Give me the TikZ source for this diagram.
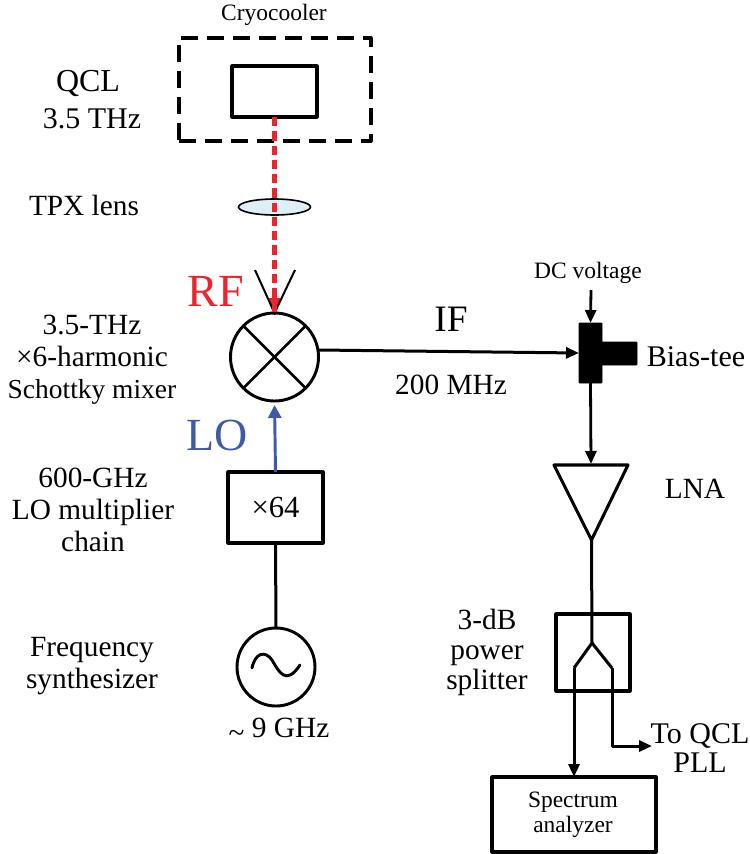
\documentclass[tikz,border=0pt]{standalone}
\usepackage{fontspec}
\setmainfont{Liberation Serif}
\usetikzlibrary{arrows.meta,shapes.geometric}
\definecolor{rfred}{RGB}{237,35,45}
\definecolor{loblue}{RGB}{64,90,170}
\definecolor{lensfill}{RGB}{222,240,246}
\def\px{0.75pt}
\tikzset{
  wire/.style={line width=2.25pt,line join=round},
  tip/.style={-{Triangle[length=13*\px,width=11*\px]}},
  rect/.style={draw,line width=2.3pt,inner sep=0pt,outer sep=0pt,line join=round},
  round shape/.style={circle,draw,line width=2.2pt,inner sep=0pt,outer sep=0pt},
  lab/.style={inner sep=0pt,align=center,font=\fontsize{22}{24}\selectfont},
  small lab/.style={inner sep=0pt,align=center,font=\fontsize{17.6}{19}\selectfont},
  big lab/.style={inner sep=0pt,font=\fontsize{34.5}{36}\selectfont},
}
\begin{document}
\begin{tikzpicture}[x=0.75pt,y=-0.75pt]
\useasboundingbox (0,0) rectangle (750,854);
% cryocooler and QCL
\node[rect,dash pattern=on 13pt off 6.5pt,minimum width=192*\px,minimum height=103*\px] (cryo) at (275,89.5) {};
\node[rect,minimum width=85*\px,minimum height=51*\px] (qcl) at (274.5,91.5) {};
\node[small lab] (cryolab) at (274,15) {Cryocooler};
\node[lab,font=\fontsize{24}{27}\selectfont] (qcllab) at (88,83) {QCL};
\node[lab,font=\fontsize{22.5}{24}\selectfont] (thz) at (92,119) {3.5 THz};
% lens
\node[ellipse,draw,line width=1.2pt,fill=lensfill,minimum width=72*\px,minimum height=16*\px,inner sep=0pt] (lens) at (274.5,207) {};
\node[lab] (tpx) at (84,205) {TPX lens};
% mixer
\node[round shape,minimum size=88*\px] (mix) at (274.5,357) {};
\draw[line width=2pt] (mix.45) -- (mix.225);
\draw[line width=2pt] (mix.135) -- (mix.315);
\coordinate (hornL) at (255,270);
\coordinate (hornR) at (295,270);
\fill[rfred] (268,298) -- (281,298) -- (mix.north) -- cycle;
\draw[line width=1.5pt] (hornL) -- (mix.north) -- (hornR);
\draw[rfred,line width=3.9pt,dash pattern=on 7pt off 3.7pt] (qcl.south) -- (mix.north);
\node[big lab,text=rfred] (rf) at (216,291) {RF};
\node[lab] (mixlab) at (92,360) {3.5-THz\\×6-harmonic\\{\fontsize{20.6}{24}\selectfont Schottky mixer}};
% LO chain
\node[rect,font=\fontsize{23}{25}\selectfont,minimum width=95*\px,minimum height=71*\px] (mult) at (275.5,507.5) {×64};
\node[round shape,minimum size=78*\px] (syn) at (276,667) {};
\draw[wire] (mult.south) -- (syn.north);
\draw[loblue,line width=2.2pt,shorten >=3pt,-{Triangle[length=13*\px,width=13*\px]}] (mult.north) -- (mix.south);
\draw[line width=2.2pt,line cap=round] (252,668) .. controls (255,653) and (265,650) .. (272,660) .. controls (279,672) and (286,686) .. (300,665);
\node[big lab,text=loblue] (lo) at (217,435) {LO};
\node[lab] (chain) at (93,510) {600-GHz\\LO multiplier\\chain};
\node[lab] (freq) at (92,666) {Frequency\\synthesizer};
\node[lab] (ghz) at (279,730) {\raisebox{-0.35ex}{\textasciitilde} 9 GHz};
% bias-tee
\node[fill=black,draw,line width=0.5pt,rounded corners=0.5pt,minimum width=23*\px,minimum height=60*\px,inner sep=0pt,outer sep=0pt] (teeV) at (590.5,353) {};
\node[fill=black,draw,line width=0.5pt,rounded corners=0.5pt,minimum width=36*\px,minimum height=23*\px,inner sep=0pt,outer sep=0pt,anchor=west] (teeH) at (601,353.5) {};
\coordinate (dc) at (591,290);
\draw[wire,line width=2.1pt,tip] (dc) -- (teeV.north);
\draw[wire,tip] (mix.east) ++(0,-7) -- (teeV.west);
\node[small lab] (dclab) at (588,273) {DC voltage};
\node[lab,font=\fontsize{22.5}{24}\selectfont] (tee) at (696,357) {Bias-tee};
\node[lab,font=\fontsize{28}{30}\selectfont] (iflab) at (451,319) {IF};
\node[lab,font=\fontsize{22}{24}\selectfont] (mhz) at (451,385) {200 MHz};
% LNA
\coordinate (lnaA) at (554,465);
\coordinate (lnaB) at (628,465);
\coordinate (lnaC) at (591.5,540);
\draw[rect] (lnaA) -- (lnaB) -- (lnaC) -- cycle;
\draw[wire,line width=2.1pt,tip] (teeV.south) -- (591,464);
\node[lab] (lna) at (695,489) {LNA};
% splitter
\node[rect,minimum width=74*\px,minimum height=77*\px] (split) at (593,652.5) {};
\coordinate (fork) at (592,643);
\coordinate (forkL) at (574,668);
\coordinate (forkR) at (612,668);
\coordinate (out) at (652,746);
\draw[wire] (lnaC) -- (fork);
\draw[wire] (forkL) -- (fork) -- (forkR);
\node[rect,minimum width=164*\px,minimum height=75*\px] (spec) at (574,814.5) {};
\draw[wire,tip] (forkL) -- (forkL |- spec.north);
\draw[wire,tip] (forkR) |- (out);
\node[lab,font=\fontsize{22}{22.5}\selectfont] (split lab) at (487,652) {3-dB\\power\\splitter};
\node[lab,font=\fontsize{22.5}{22}\selectfont] (pll) at (700,748) {To QCL\\PLL};
\node[small lab,font=\fontsize{17.6}{18.9}\selectfont] (speclab) at (573,815) {Spectrum\\analyzer};
\end{tikzpicture}
\end{document}
